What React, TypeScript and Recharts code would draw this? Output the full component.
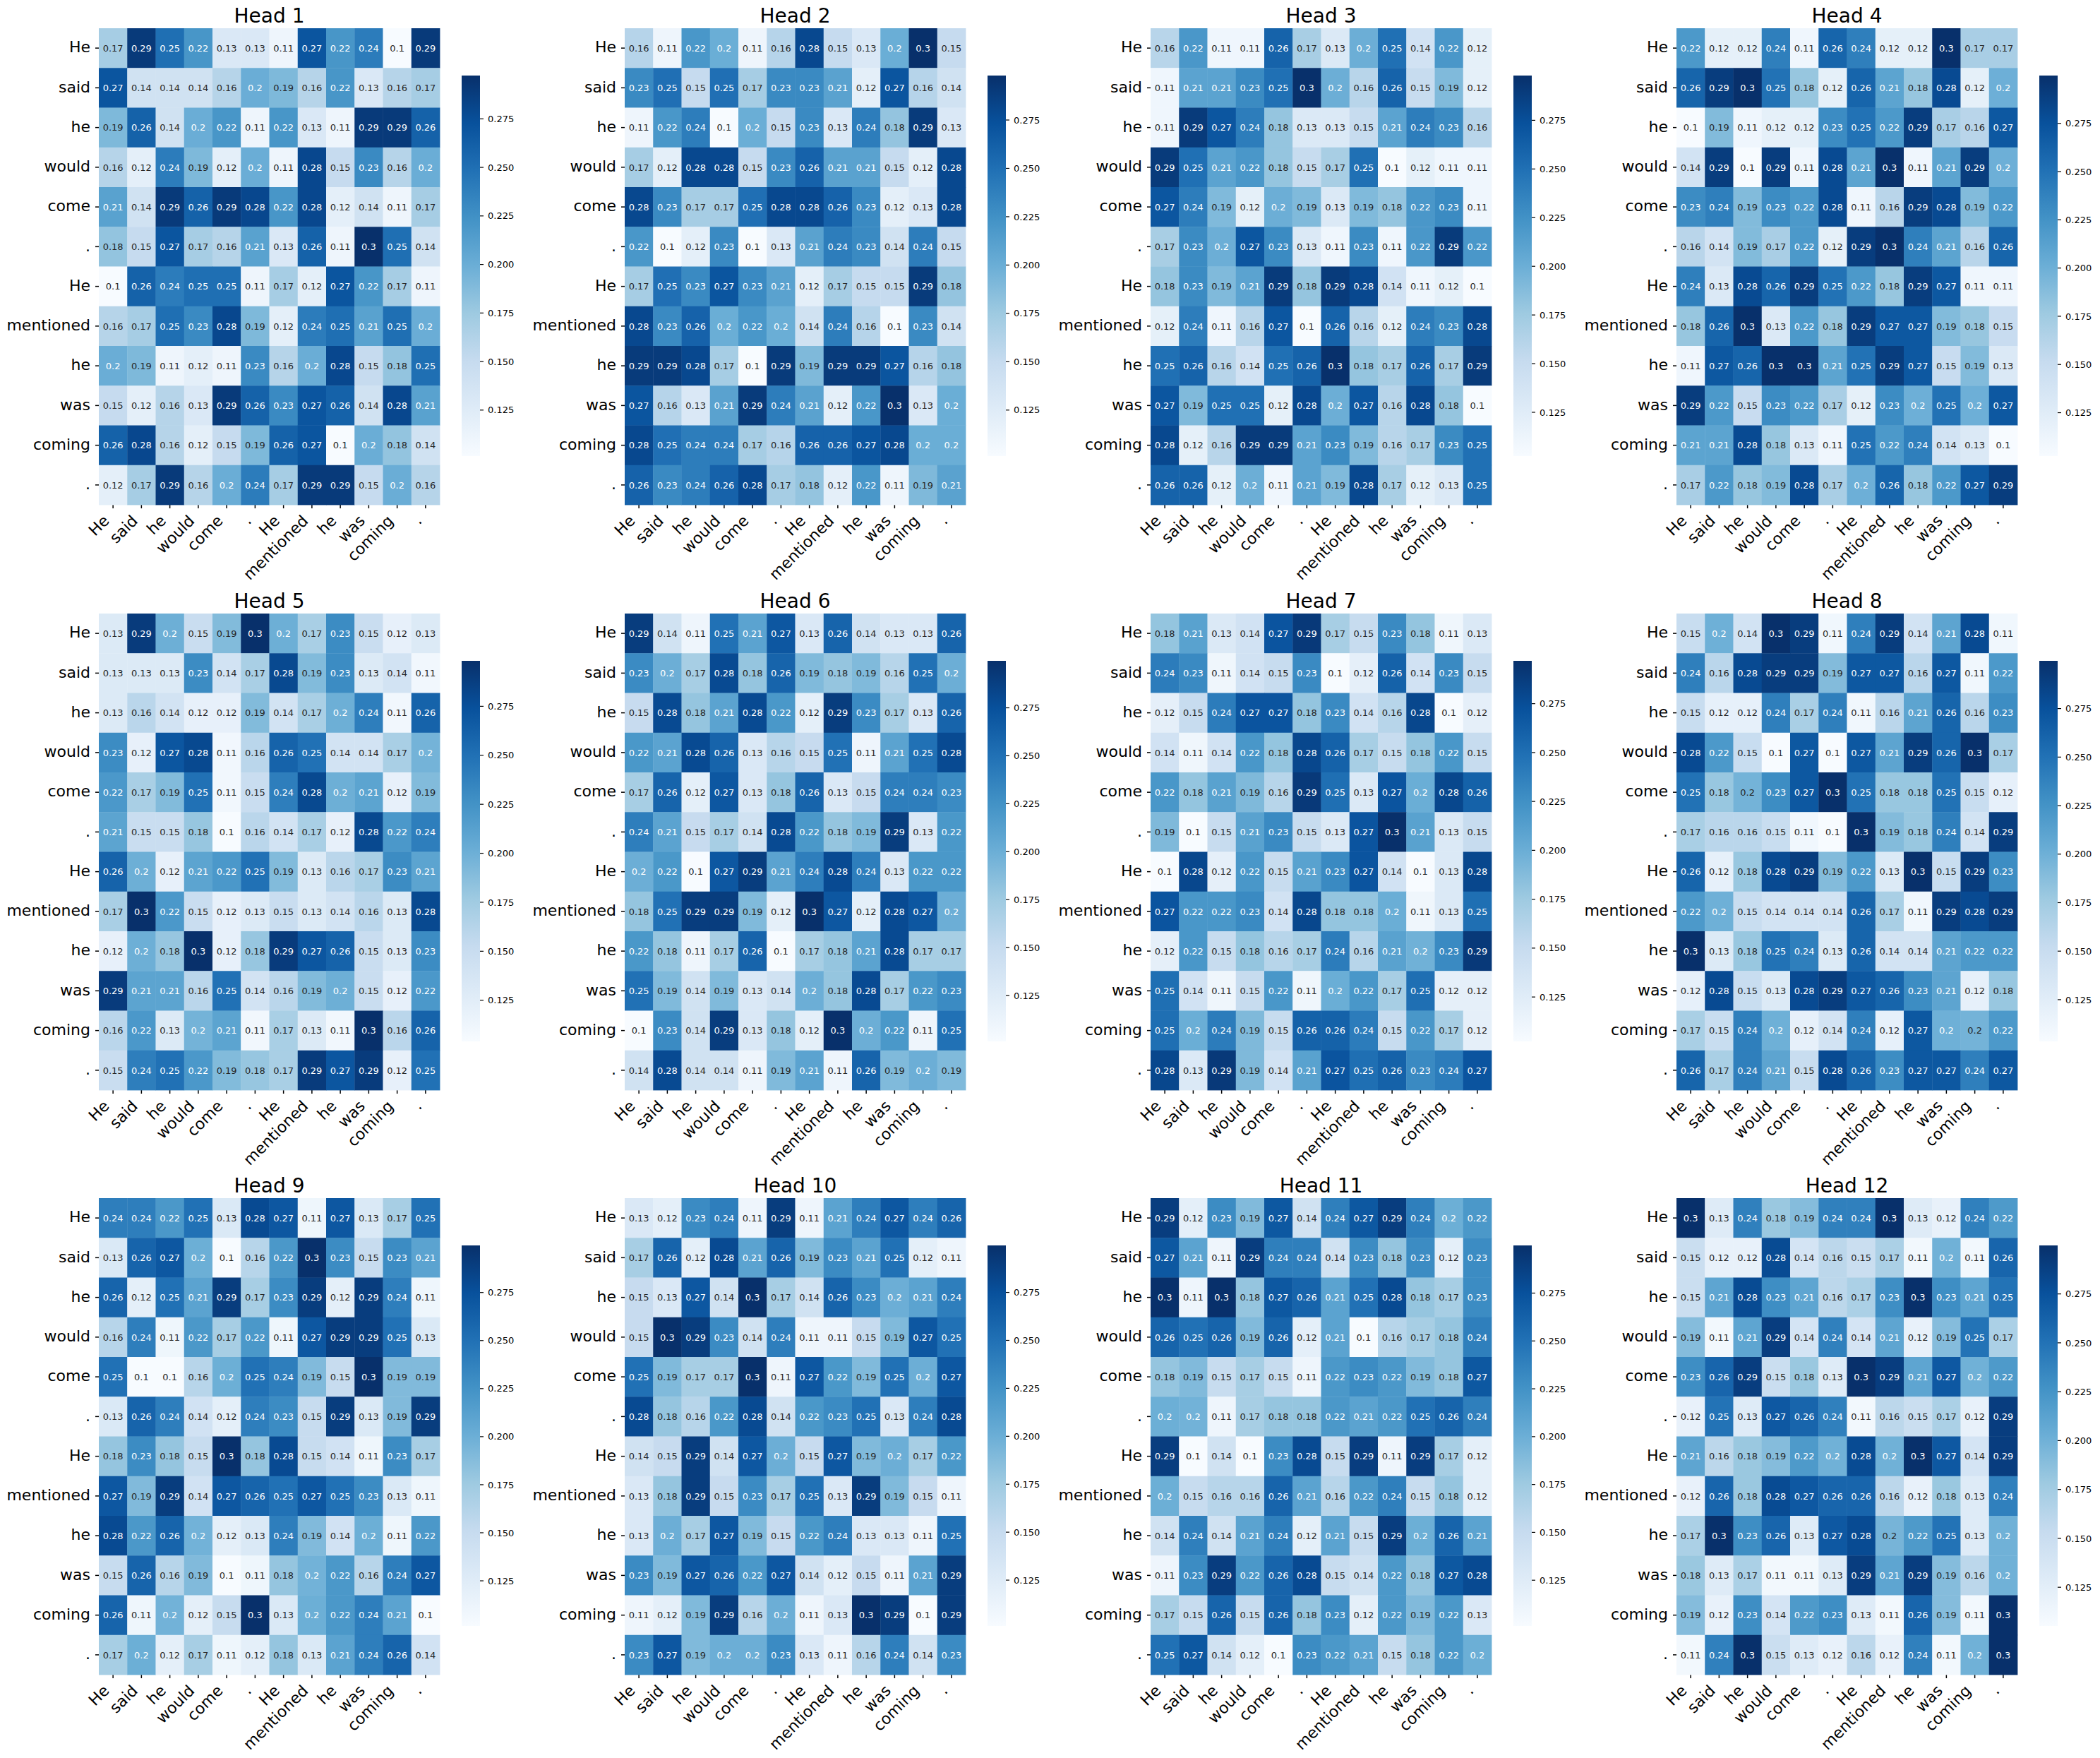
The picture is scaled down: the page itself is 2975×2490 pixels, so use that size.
import React from "react";
import { Bar, BarChart, Scatter, ScatterChart, XAxis, YAxis } from "recharts";

const tokens = ["He", "said", "he", "would", "come", ".", "He", "mentioned", "he", "was", "coming", "."];

// values printed as "0.2" on a dark label sit just under the white text threshold, so 0.197
const head1 = [
  [0.17, 0.29, 0.25, 0.22, 0.13, 0.13, 0.11, 0.27, 0.22, 0.24, 0.1, 0.29],
  [0.27, 0.14, 0.14, 0.14, 0.16, 0.2, 0.19, 0.16, 0.22, 0.13, 0.16, 0.17],
  [0.19, 0.26, 0.14, 0.2, 0.22, 0.11, 0.22, 0.13, 0.11, 0.29, 0.29, 0.26],
  [0.16, 0.12, 0.24, 0.19, 0.12, 0.2, 0.11, 0.28, 0.15, 0.23, 0.16, 0.2],
  [0.21, 0.14, 0.29, 0.26, 0.29, 0.28, 0.22, 0.28, 0.12, 0.14, 0.11, 0.17],
  [0.18, 0.15, 0.27, 0.17, 0.16, 0.21, 0.13, 0.26, 0.11, 0.3, 0.25, 0.14],
  [0.1, 0.26, 0.24, 0.25, 0.25, 0.11, 0.17, 0.12, 0.27, 0.22, 0.17, 0.11],
  [0.16, 0.17, 0.25, 0.23, 0.28, 0.19, 0.12, 0.24, 0.25, 0.21, 0.25, 0.2],
  [0.2, 0.19, 0.11, 0.12, 0.11, 0.23, 0.16, 0.2, 0.28, 0.15, 0.18, 0.25],
  [0.15, 0.12, 0.16, 0.13, 0.29, 0.26, 0.23, 0.27, 0.26, 0.14, 0.28, 0.21],
  [0.26, 0.28, 0.16, 0.12, 0.15, 0.19, 0.26, 0.27, 0.1, 0.2, 0.18, 0.14],
  [0.12, 0.17, 0.29, 0.16, 0.2, 0.24, 0.17, 0.29, 0.29, 0.15, 0.2, 0.16],
];
const head2 = [
  [0.16, 0.11, 0.22, 0.2, 0.11, 0.16, 0.28, 0.15, 0.13, 0.2, 0.3, 0.15],
  [0.23, 0.25, 0.15, 0.25, 0.17, 0.23, 0.23, 0.21, 0.12, 0.27, 0.16, 0.14],
  [0.11, 0.22, 0.24, 0.1, 0.2, 0.15, 0.23, 0.13, 0.24, 0.18, 0.29, 0.13],
  [0.17, 0.12, 0.28, 0.28, 0.15, 0.23, 0.26, 0.21, 0.21, 0.15, 0.12, 0.28],
  [0.28, 0.23, 0.17, 0.17, 0.25, 0.28, 0.28, 0.26, 0.23, 0.12, 0.13, 0.28],
  [0.22, 0.1, 0.12, 0.23, 0.1, 0.13, 0.21, 0.24, 0.23, 0.14, 0.24, 0.15],
  [0.17, 0.25, 0.23, 0.27, 0.23, 0.21, 0.12, 0.17, 0.15, 0.15, 0.29, 0.18],
  [0.28, 0.23, 0.26, 0.2, 0.22, 0.2, 0.14, 0.24, 0.16, 0.1, 0.23, 0.14],
  [0.29, 0.29, 0.28, 0.17, 0.1, 0.29, 0.19, 0.29, 0.29, 0.27, 0.16, 0.18],
  [0.27, 0.16, 0.13, 0.21, 0.29, 0.24, 0.21, 0.12, 0.22, 0.3, 0.13, 0.2],
  [0.28, 0.25, 0.24, 0.24, 0.17, 0.16, 0.26, 0.26, 0.27, 0.28, 0.2, 0.2],
  [0.26, 0.23, 0.24, 0.26, 0.28, 0.17, 0.18, 0.12, 0.22, 0.11, 0.19, 0.21],
];
const head3 = [
  [0.16, 0.22, 0.11, 0.11, 0.26, 0.17, 0.13, 0.2, 0.25, 0.14, 0.22, 0.12],
  [0.11, 0.21, 0.21, 0.23, 0.25, 0.3, 0.2, 0.16, 0.26, 0.15, 0.19, 0.12],
  [0.11, 0.29, 0.27, 0.24, 0.18, 0.13, 0.13, 0.15, 0.21, 0.24, 0.23, 0.16],
  [0.29, 0.25, 0.21, 0.22, 0.18, 0.15, 0.17, 0.25, 0.1, 0.12, 0.11, 0.11],
  [0.27, 0.24, 0.19, 0.12, 0.2, 0.19, 0.13, 0.19, 0.18, 0.22, 0.23, 0.11],
  [0.17, 0.23, 0.2, 0.27, 0.23, 0.13, 0.11, 0.23, 0.11, 0.22, 0.29, 0.22],
  [0.18, 0.23, 0.19, 0.21, 0.29, 0.18, 0.29, 0.28, 0.14, 0.11, 0.12, 0.1],
  [0.12, 0.24, 0.11, 0.16, 0.27, 0.1, 0.26, 0.16, 0.12, 0.24, 0.23, 0.28],
  [0.25, 0.26, 0.16, 0.14, 0.25, 0.26, 0.3, 0.18, 0.17, 0.26, 0.17, 0.29],
  [0.27, 0.19, 0.25, 0.25, 0.12, 0.28, 0.2, 0.27, 0.16, 0.28, 0.18, 0.1],
  [0.28, 0.12, 0.16, 0.29, 0.29, 0.21, 0.23, 0.19, 0.16, 0.17, 0.23, 0.25],
  [0.26, 0.26, 0.12, 0.2, 0.11, 0.21, 0.19, 0.28, 0.17, 0.12, 0.13, 0.25],
];
const head4 = [
  [0.22, 0.12, 0.12, 0.24, 0.11, 0.26, 0.24, 0.12, 0.12, 0.3, 0.17, 0.17],
  [0.26, 0.29, 0.3, 0.25, 0.18, 0.12, 0.26, 0.21, 0.18, 0.28, 0.12, 0.2],
  [0.1, 0.19, 0.11, 0.12, 0.12, 0.23, 0.25, 0.22, 0.29, 0.17, 0.16, 0.27],
  [0.14, 0.29, 0.1, 0.29, 0.11, 0.28, 0.21, 0.3, 0.11, 0.21, 0.29, 0.2],
  [0.23, 0.24, 0.19, 0.23, 0.22, 0.28, 0.11, 0.16, 0.29, 0.28, 0.19, 0.22],
  [0.16, 0.14, 0.19, 0.17, 0.22, 0.12, 0.29, 0.3, 0.24, 0.21, 0.16, 0.26],
  [0.24, 0.13, 0.28, 0.26, 0.29, 0.25, 0.22, 0.18, 0.29, 0.27, 0.11, 0.11],
  [0.18, 0.26, 0.3, 0.13, 0.22, 0.18, 0.29, 0.27, 0.27, 0.19, 0.18, 0.15],
  [0.11, 0.27, 0.26, 0.3, 0.3, 0.21, 0.25, 0.29, 0.27, 0.15, 0.19, 0.13],
  [0.29, 0.22, 0.15, 0.23, 0.22, 0.17, 0.12, 0.23, 0.2, 0.25, 0.2, 0.27],
  [0.21, 0.21, 0.28, 0.18, 0.13, 0.11, 0.25, 0.22, 0.24, 0.14, 0.13, 0.1],
  [0.17, 0.22, 0.18, 0.19, 0.28, 0.17, 0.2, 0.26, 0.18, 0.22, 0.27, 0.29],
];
const head5 = [
  [0.13, 0.29, 0.2, 0.15, 0.19, 0.3, 0.2, 0.17, 0.23, 0.15, 0.12, 0.13],
  [0.13, 0.13, 0.13, 0.23, 0.14, 0.17, 0.28, 0.19, 0.23, 0.13, 0.14, 0.11],
  [0.13, 0.16, 0.14, 0.12, 0.12, 0.19, 0.14, 0.17, 0.2, 0.24, 0.11, 0.26],
  [0.23, 0.12, 0.27, 0.28, 0.11, 0.16, 0.26, 0.25, 0.14, 0.14, 0.17, 0.197],
  [0.22, 0.17, 0.19, 0.25, 0.11, 0.15, 0.24, 0.28, 0.2, 0.21, 0.12, 0.19],
  [0.21, 0.15, 0.15, 0.18, 0.1, 0.16, 0.14, 0.17, 0.12, 0.28, 0.22, 0.24],
  [0.26, 0.2, 0.12, 0.21, 0.22, 0.25, 0.19, 0.13, 0.16, 0.17, 0.23, 0.21],
  [0.17, 0.3, 0.22, 0.15, 0.12, 0.13, 0.15, 0.13, 0.14, 0.16, 0.13, 0.28],
  [0.12, 0.2, 0.18, 0.3, 0.12, 0.18, 0.29, 0.27, 0.26, 0.15, 0.13, 0.23],
  [0.29, 0.21, 0.21, 0.16, 0.25, 0.14, 0.16, 0.19, 0.2, 0.15, 0.12, 0.22],
  [0.16, 0.22, 0.13, 0.197, 0.21, 0.11, 0.17, 0.13, 0.11, 0.3, 0.16, 0.26],
  [0.15, 0.24, 0.25, 0.22, 0.19, 0.18, 0.17, 0.29, 0.27, 0.29, 0.12, 0.25],
];
const head6 = [
  [0.29, 0.14, 0.11, 0.25, 0.21, 0.27, 0.13, 0.26, 0.14, 0.13, 0.13, 0.26],
  [0.23, 0.2, 0.17, 0.28, 0.18, 0.26, 0.19, 0.18, 0.19, 0.16, 0.25, 0.2],
  [0.15, 0.28, 0.18, 0.21, 0.28, 0.22, 0.12, 0.29, 0.23, 0.17, 0.13, 0.26],
  [0.22, 0.21, 0.28, 0.26, 0.13, 0.16, 0.15, 0.25, 0.11, 0.21, 0.25, 0.28],
  [0.17, 0.26, 0.12, 0.27, 0.13, 0.18, 0.26, 0.13, 0.15, 0.24, 0.24, 0.23],
  [0.24, 0.21, 0.15, 0.17, 0.14, 0.28, 0.22, 0.18, 0.19, 0.29, 0.13, 0.22],
  [0.2, 0.22, 0.1, 0.27, 0.29, 0.21, 0.24, 0.28, 0.24, 0.13, 0.22, 0.22],
  [0.18, 0.25, 0.29, 0.29, 0.19, 0.12, 0.3, 0.27, 0.12, 0.28, 0.27, 0.2],
  [0.22, 0.18, 0.11, 0.17, 0.26, 0.1, 0.17, 0.18, 0.21, 0.28, 0.17, 0.17],
  [0.25, 0.19, 0.14, 0.19, 0.13, 0.14, 0.2, 0.18, 0.28, 0.17, 0.22, 0.23],
  [0.1, 0.23, 0.14, 0.29, 0.13, 0.18, 0.12, 0.3, 0.2, 0.22, 0.11, 0.25],
  [0.14, 0.28, 0.14, 0.14, 0.11, 0.19, 0.21, 0.11, 0.26, 0.19, 0.2, 0.19],
];
const head7 = [
  [0.18, 0.21, 0.13, 0.14, 0.27, 0.29, 0.17, 0.15, 0.23, 0.18, 0.11, 0.13],
  [0.24, 0.23, 0.11, 0.14, 0.15, 0.23, 0.1, 0.12, 0.26, 0.14, 0.23, 0.15],
  [0.12, 0.15, 0.24, 0.27, 0.27, 0.18, 0.23, 0.14, 0.16, 0.28, 0.1, 0.12],
  [0.14, 0.11, 0.14, 0.22, 0.18, 0.28, 0.26, 0.17, 0.15, 0.18, 0.22, 0.15],
  [0.22, 0.18, 0.21, 0.19, 0.16, 0.29, 0.25, 0.13, 0.27, 0.2, 0.28, 0.26],
  [0.19, 0.1, 0.15, 0.21, 0.23, 0.15, 0.13, 0.27, 0.3, 0.21, 0.13, 0.15],
  [0.1, 0.28, 0.12, 0.22, 0.15, 0.21, 0.23, 0.27, 0.14, 0.1, 0.13, 0.28],
  [0.27, 0.22, 0.22, 0.23, 0.14, 0.28, 0.18, 0.18, 0.2, 0.11, 0.13, 0.25],
  [0.12, 0.22, 0.15, 0.18, 0.16, 0.17, 0.24, 0.16, 0.21, 0.197, 0.23, 0.29],
  [0.25, 0.14, 0.11, 0.15, 0.22, 0.11, 0.2, 0.22, 0.17, 0.25, 0.12, 0.12],
  [0.25, 0.2, 0.24, 0.19, 0.15, 0.26, 0.26, 0.24, 0.15, 0.22, 0.17, 0.12],
  [0.28, 0.13, 0.29, 0.19, 0.14, 0.21, 0.27, 0.25, 0.26, 0.23, 0.24, 0.27],
];
const head8 = [
  [0.15, 0.2, 0.14, 0.3, 0.29, 0.11, 0.24, 0.29, 0.14, 0.21, 0.28, 0.11],
  [0.24, 0.16, 0.28, 0.29, 0.29, 0.19, 0.27, 0.27, 0.16, 0.27, 0.11, 0.22],
  [0.15, 0.12, 0.12, 0.24, 0.17, 0.24, 0.11, 0.16, 0.21, 0.26, 0.16, 0.23],
  [0.28, 0.22, 0.15, 0.1, 0.27, 0.1, 0.27, 0.21, 0.29, 0.26, 0.3, 0.17],
  [0.25, 0.18, 0.197, 0.23, 0.27, 0.3, 0.25, 0.18, 0.18, 0.25, 0.15, 0.12],
  [0.17, 0.16, 0.16, 0.15, 0.11, 0.1, 0.3, 0.19, 0.18, 0.24, 0.14, 0.29],
  [0.26, 0.12, 0.18, 0.28, 0.29, 0.19, 0.22, 0.13, 0.3, 0.15, 0.29, 0.23],
  [0.22, 0.2, 0.15, 0.14, 0.14, 0.14, 0.26, 0.17, 0.11, 0.29, 0.28, 0.29],
  [0.3, 0.13, 0.18, 0.25, 0.24, 0.13, 0.26, 0.14, 0.14, 0.21, 0.22, 0.22],
  [0.12, 0.28, 0.15, 0.13, 0.28, 0.29, 0.27, 0.26, 0.23, 0.21, 0.12, 0.18],
  [0.17, 0.15, 0.24, 0.2, 0.12, 0.14, 0.24, 0.12, 0.27, 0.2, 0.197, 0.22],
  [0.26, 0.17, 0.24, 0.21, 0.15, 0.28, 0.26, 0.23, 0.27, 0.27, 0.24, 0.27],
];
const head9 = [
  [0.24, 0.24, 0.22, 0.25, 0.13, 0.28, 0.27, 0.11, 0.27, 0.13, 0.17, 0.25],
  [0.13, 0.26, 0.27, 0.2, 0.1, 0.16, 0.22, 0.3, 0.23, 0.15, 0.23, 0.21],
  [0.26, 0.12, 0.25, 0.21, 0.29, 0.17, 0.23, 0.29, 0.12, 0.29, 0.24, 0.11],
  [0.16, 0.24, 0.11, 0.22, 0.17, 0.22, 0.11, 0.27, 0.29, 0.29, 0.25, 0.13],
  [0.25, 0.1, 0.1, 0.16, 0.2, 0.25, 0.24, 0.19, 0.15, 0.3, 0.19, 0.19],
  [0.13, 0.26, 0.24, 0.14, 0.12, 0.24, 0.23, 0.15, 0.29, 0.13, 0.19, 0.29],
  [0.18, 0.23, 0.18, 0.15, 0.3, 0.18, 0.28, 0.15, 0.14, 0.11, 0.23, 0.17],
  [0.27, 0.19, 0.29, 0.14, 0.27, 0.26, 0.25, 0.27, 0.25, 0.23, 0.13, 0.11],
  [0.28, 0.22, 0.26, 0.197, 0.12, 0.13, 0.24, 0.19, 0.14, 0.2, 0.11, 0.22],
  [0.15, 0.26, 0.16, 0.19, 0.1, 0.11, 0.18, 0.197, 0.22, 0.16, 0.24, 0.27],
  [0.26, 0.11, 0.197, 0.12, 0.15, 0.3, 0.13, 0.2, 0.22, 0.24, 0.21, 0.1],
  [0.17, 0.2, 0.12, 0.17, 0.11, 0.12, 0.18, 0.13, 0.21, 0.24, 0.26, 0.14],
];
const head10 = [
  [0.13, 0.12, 0.23, 0.24, 0.11, 0.29, 0.11, 0.21, 0.24, 0.27, 0.24, 0.26],
  [0.17, 0.26, 0.12, 0.28, 0.21, 0.26, 0.19, 0.23, 0.21, 0.25, 0.12, 0.11],
  [0.15, 0.13, 0.27, 0.14, 0.3, 0.17, 0.14, 0.26, 0.23, 0.2, 0.21, 0.24],
  [0.15, 0.3, 0.29, 0.23, 0.14, 0.24, 0.11, 0.11, 0.15, 0.19, 0.27, 0.25],
  [0.25, 0.19, 0.17, 0.17, 0.3, 0.11, 0.27, 0.22, 0.19, 0.25, 0.2, 0.27],
  [0.28, 0.18, 0.16, 0.22, 0.28, 0.14, 0.22, 0.23, 0.25, 0.13, 0.24, 0.28],
  [0.14, 0.15, 0.29, 0.14, 0.27, 0.2, 0.15, 0.27, 0.19, 0.2, 0.17, 0.22],
  [0.13, 0.18, 0.29, 0.15, 0.23, 0.17, 0.25, 0.13, 0.29, 0.19, 0.15, 0.11],
  [0.13, 0.2, 0.17, 0.27, 0.19, 0.15, 0.22, 0.24, 0.13, 0.13, 0.11, 0.25],
  [0.23, 0.19, 0.27, 0.26, 0.22, 0.27, 0.14, 0.12, 0.15, 0.11, 0.21, 0.29],
  [0.11, 0.12, 0.19, 0.29, 0.16, 0.2, 0.11, 0.13, 0.3, 0.29, 0.1, 0.29],
  [0.23, 0.27, 0.19, 0.2, 0.2, 0.23, 0.13, 0.11, 0.16, 0.24, 0.14, 0.23],
];
const head11 = [
  [0.29, 0.12, 0.23, 0.19, 0.27, 0.14, 0.24, 0.27, 0.29, 0.24, 0.2, 0.22],
  [0.27, 0.21, 0.11, 0.29, 0.24, 0.24, 0.14, 0.23, 0.18, 0.23, 0.12, 0.23],
  [0.3, 0.11, 0.3, 0.18, 0.27, 0.26, 0.21, 0.25, 0.28, 0.18, 0.17, 0.23],
  [0.26, 0.25, 0.26, 0.19, 0.26, 0.12, 0.21, 0.1, 0.16, 0.17, 0.18, 0.24],
  [0.18, 0.19, 0.15, 0.17, 0.15, 0.11, 0.22, 0.23, 0.22, 0.19, 0.18, 0.27],
  [0.2, 0.197, 0.11, 0.17, 0.18, 0.18, 0.22, 0.21, 0.22, 0.25, 0.26, 0.24],
  [0.29, 0.1, 0.14, 0.1, 0.23, 0.28, 0.15, 0.29, 0.11, 0.29, 0.17, 0.12],
  [0.2, 0.15, 0.16, 0.16, 0.26, 0.21, 0.16, 0.22, 0.24, 0.15, 0.18, 0.12],
  [0.14, 0.24, 0.14, 0.21, 0.24, 0.12, 0.21, 0.15, 0.29, 0.2, 0.26, 0.21],
  [0.11, 0.23, 0.29, 0.22, 0.26, 0.28, 0.15, 0.14, 0.22, 0.18, 0.27, 0.28],
  [0.17, 0.15, 0.26, 0.15, 0.26, 0.18, 0.23, 0.12, 0.22, 0.19, 0.22, 0.13],
  [0.25, 0.27, 0.14, 0.12, 0.1, 0.23, 0.22, 0.21, 0.15, 0.18, 0.22, 0.2],
];
const head12 = [
  [0.3, 0.13, 0.24, 0.18, 0.19, 0.24, 0.24, 0.3, 0.13, 0.12, 0.24, 0.22],
  [0.15, 0.12, 0.12, 0.28, 0.14, 0.16, 0.15, 0.17, 0.11, 0.2, 0.11, 0.26],
  [0.15, 0.21, 0.28, 0.23, 0.21, 0.16, 0.17, 0.23, 0.3, 0.23, 0.21, 0.25],
  [0.19, 0.11, 0.21, 0.29, 0.14, 0.24, 0.14, 0.21, 0.12, 0.19, 0.25, 0.17],
  [0.23, 0.26, 0.29, 0.15, 0.18, 0.13, 0.3, 0.29, 0.21, 0.27, 0.2, 0.22],
  [0.12, 0.25, 0.13, 0.27, 0.26, 0.24, 0.11, 0.16, 0.15, 0.17, 0.12, 0.29],
  [0.21, 0.16, 0.18, 0.19, 0.22, 0.2, 0.28, 0.2, 0.3, 0.27, 0.14, 0.29],
  [0.12, 0.26, 0.18, 0.28, 0.27, 0.26, 0.26, 0.16, 0.12, 0.18, 0.13, 0.24],
  [0.17, 0.3, 0.23, 0.26, 0.13, 0.27, 0.28, 0.197, 0.22, 0.25, 0.13, 0.2],
  [0.18, 0.13, 0.17, 0.11, 0.11, 0.13, 0.29, 0.21, 0.29, 0.19, 0.16, 0.2],
  [0.19, 0.12, 0.23, 0.14, 0.22, 0.23, 0.13, 0.11, 0.26, 0.19, 0.11, 0.3],
  [0.11, 0.24, 0.3, 0.15, 0.13, 0.12, 0.16, 0.12, 0.24, 0.11, 0.2, 0.3],
];
const heads = [head1, head2, head3, head4, head5, head6, head7, head8, head9, head10, head11, head12];

// colour limits of each panel
const vmins = [0.1013, 0.1012, 0.1025, 0.1025, 0.104, 0.1011, 0.1023, 0.1035, 0.1015, 0.1011, 0.1011, 0.1052];
const vmaxs = [0.2973, 0.298, 0.298, 0.2998, 0.2982, 0.2995, 0.2969, 0.2996, 0.2995, 0.2995, 0.2999, 0.2998];
const colorbarTicks = [0.125, 0.15, 0.175, 0.2, 0.225, 0.25, 0.275];

const blues = ["#f7fbff", "#deebf7", "#c6dbef", "#9ecae1", "#6baed6", "#4292c6", "#2171b5", "#08519c", "#08306b"];

const FONT = "'DejaVu Sans'";
const PLOT_W = 483;
const PLOT_H = 675;
const CELL_W = PLOT_W / 12;
const CELL_H = PLOT_H / 12;
const PLOT_TOP = 40;
const rowTops = [40, 869, 1697];
const colLefts = [140, 885, 1630, 2375];
const tickPositions = tokens.map((_, i) => i + 0.5);

const hexToRgb = (hex: string) => [1, 3, 5].map((i) => parseInt(hex.slice(i, i + 2), 16));

function bluesRgb(t: number) {
  const c = Math.min(1, Math.max(0, t)) * (blues.length - 1);
  const i = Math.min(blues.length - 2, Math.floor(c));
  const a = hexToRgb(blues[i]);
  const b = hexToRgb(blues[i + 1]);
  return a.map((v, k) => v + (b[k] - v) * (c - i));
}

function luminance(rgb: number[]) {
  const [r, g, b] = rgb.map((v) => {
    const s = v / 255;
    return s <= 0.03928 ? s / 12.92 : Math.pow((s + 0.055) / 1.055, 2.4);
  });
  return 0.2126 * r + 0.7152 * g + 0.0722 * b;
}

function HeatCell(props: any) {
  const { cx, cy, payload, vmin, vmax } = props;
  const rgb = bluesRgb((payload.value - vmin) / (vmax - vmin));
  const fill = `rgb(${rgb.map(Math.round).join(",")})`;
  return (
    <g>
      <rect x={cx - CELL_W / 2} y={cy - CELL_H / 2} width={CELL_W + 0.4} height={CELL_H + 0.4} fill={fill} />
      <text
        x={cx}
        y={cy}
        dy="0.36em"
        textAnchor="middle"
        fontFamily={FONT}
        fontSize={13}
        fill={luminance(rgb) > 0.408 ? "#262626" : "#ffffff"}
      >
        {String(Number(payload.value.toFixed(2)))}
      </text>
    </g>
  );
}

function RotatedTick(props: any) {
  const { x, y, payload } = props;
  return (
    <text
      transform={`translate(${x - 4},${y + 19}) rotate(-45)`}
      textAnchor="end"
      fontFamily={FONT}
      fontSize={22}
      fill="#000"
    >
      {tokens[Math.floor(payload.value)]}
    </text>
  );
}

function Heatmap({ index }: { index: number }) {
  const left = colLefts[index % 4];
  const top = rowTops[Math.floor(index / 4)];
  const vmin = vmins[index];
  const vmax = vmaxs[index];
  const cells = heads[index].flatMap((row, r) => row.map((value, c) => ({ x: c + 0.5, y: r + 0.5, value })));
  return (
    <div style={{ position: "absolute", left: left - 140, top: top - PLOT_TOP }}>
      <ScatterChart
        width={740}
        height={828}
        margin={{ left: 10, right: 117, top: PLOT_TOP, bottom: 0 }}
      >
        <text x={140 + PLOT_W / 2} y={PLOT_TOP - 8} textAnchor="middle" fontFamily={FONT} fontSize={28} fill="#000">
          {`Head ${index + 1}`}
        </text>
        <XAxis
          type="number"
          dataKey="x"
          domain={[0, 12]}
          ticks={tickPositions}
          interval={0}
          height={828 - PLOT_TOP - PLOT_H}
          axisLine={false}
          tickSize={5}
          tickMargin={0}
          tickLine={{ stroke: "#000", strokeWidth: 1.5 }}
          tick={<RotatedTick />}
        />
        <YAxis
          type="number"
          dataKey="y"
          domain={[0, 12]}
          reversed
          ticks={tickPositions}
          interval={0}
          width={130}
          axisLine={false}
          tickSize={5}
          tickMargin={7}
          tickLine={{ stroke: "#000", strokeWidth: 1.5 }}
          tick={{ fontSize: 22, fill: "#000", fontFamily: FONT, dy: -1.5 }}
          tickFormatter={(v: number) => tokens[Math.floor(v)]}
        />
        <Scatter
          data={cells}
          isAnimationActive={false}
          shape={(p: any) => <HeatCell {...p} vmin={vmin} vmax={vmax} />}
        />
      </ScatterChart>
    </div>
  );
}

function Colorbar({ index }: { index: number }) {
  const left = colLefts[index % 4] + 514;
  const top = rowTops[Math.floor(index / 4)] + 67.3;
  const vmin = vmins[index];
  const vmax = vmaxs[index];
  const gradientId = `blues-${index}`;
  return (
    <div style={{ position: "absolute", left, top }}>
      <BarChart
        width={96}
        height={539}
        data={[{ name: "", range: [vmin, vmax] }]}
        margin={{ left: 0, right: 0, top: 0, bottom: 0 }}
        barCategoryGap={0}
      >
        <defs>
          <linearGradient id={gradientId} x1="0" y1="1" x2="0" y2="0">
            {blues.map((c, i) => (
              <stop key={c} offset={i / (blues.length - 1)} stopColor={c} />
            ))}
          </linearGradient>
        </defs>
        <XAxis dataKey="name" hide />
        <YAxis
          orientation="right"
          type="number"
          domain={[vmin, vmax]}
          ticks={colorbarTicks}
          interval={0}
          width={70}
          axisLine={false}
          tickSize={5}
          tickMargin={6}
          tickLine={{ stroke: "#000", strokeWidth: 1.2 }}
          tick={{ fontSize: 13, fill: "#000", fontFamily: FONT }}
          tickFormatter={(v: number) => v.toFixed(3)}
        />
        <Bar dataKey="range" fill={`url(#${gradientId})`} isAnimationActive={false} />
      </BarChart>
    </div>
  );
}

export default function App() {
  return (
    <div style={{ position: "absolute", left: 0, top: 0, width: 2975, height: 2490, background: "#fff" }}>
      {heads.map((_, i) => (
        <React.Fragment key={i}>
          <Heatmap index={i} />
          <Colorbar index={i} />
        </React.Fragment>
      ))}
    </div>
  );
}
